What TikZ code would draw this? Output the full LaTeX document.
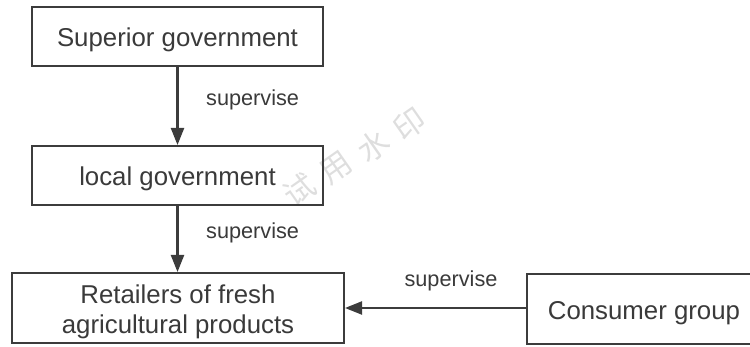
\documentclass[tikz,border=0pt]{standalone}
\usepackage{fontspec}
\setmainfont{Liberation Sans}
\newfontfamily\cjk{Noto Sans CJK SC}
\usepackage{xcolor}
\usetikzlibrary{arrows.meta,positioning}

\definecolor{boxline}{HTML}{3C3C3C}
\definecolor{txt}{HTML}{3A3A3A}

\begin{document}
\begin{tikzpicture}[
  x=1pt, y=-1pt,
  box/.style={draw=boxline, line width=2pt, align=center, text=txt, font=\fontsize{25.8}{30}\selectfont, inner sep=0pt, text depth=0pt},
  edgeLabel/.style={font=\fontsize{21.7}{24}\selectfont, text=txt, fill=white, inner sep=2pt},
  arrow/.style={-{Triangle[length=17pt,width=13pt]}, line width=2.2pt, draw=boxline},
  markChar/.style={text=black!13, rotate=35, font=\cjk\fontsize{31}{34}\selectfont, inner sep=0pt}
]
\useasboundingbox (0,0) rectangle (750,347);
% watermark
\foreach \ch [count=\i] in {试,用,水,印}
  \node[markChar] (mark\i) at ({299+(\i-1)*37},{190-(\i-1)*22}) {\ch};

\node[box, minimum width=291pt, minimum height=59pt] (sup) at (177.5,36.5) {\strut Superior government};
\node[box, minimum width=291pt, minimum height=59pt] (local) at (177.5,175.5) {\strut local government};
\node[box, minimum width=332pt, minimum height=70pt] (retail) at (178,308) {\strut Retailers of fresh\\\strut agricultural products};
\node[box, minimum width=234pt, minimum height=70pt] (consumer) at (644,309) {\strut Consumer group};

\draw[arrow] (sup) -- (local);
\draw[arrow] (local) -- (retail.north -| local);
\draw[arrow] (consumer.west |- retail) -- (retail);

\node[edgeLabel, anchor=west] (l1) at (204,100) {supervise};
\node[edgeLabel, anchor=west] (l2) at (204,233) {supervise};
\node[edgeLabel] (l3) at (451,281) {supervise};
\end{tikzpicture}
\end{document}
